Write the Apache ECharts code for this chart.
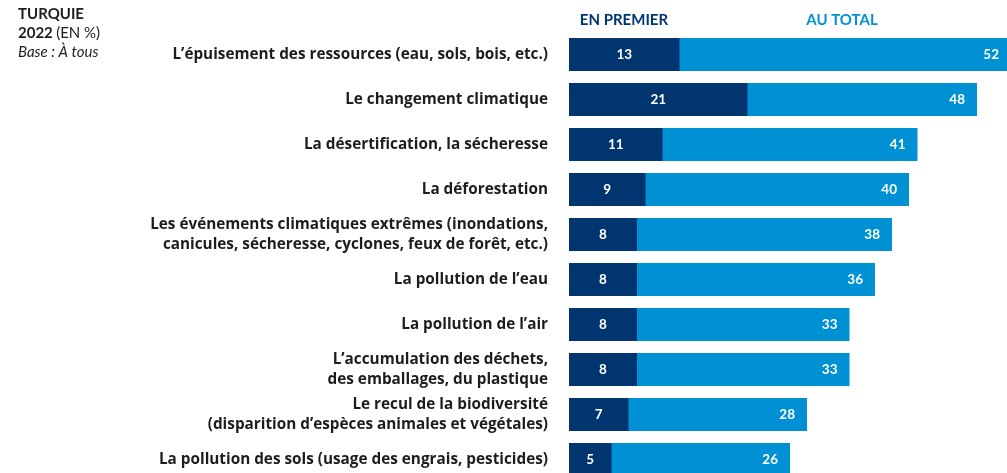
<!DOCTYPE html>
<html>
<head>
<meta charset="utf-8">
<script src="https://cdn.jsdelivr.net/npm/echarts@6/dist/echarts.min.js"></script>
<style>
  html, body { margin: 0; padding: 0; background: #ffffff; }
  #chart { width: 1007px; height: 473px; }
</style>
</head>
<body>
<div id="chart"></div>
<script>
// Préoccupations environnementales — Turquie 2022 (en %)
const categories = [
  "L’épuisement des ressources (eau, sols, bois, etc.)",
  "Le changement climatique",
  "La désertification, la sécheresse",
  "La déforestation",
  "Les événements climatiques extrêmes (inondations,\ncanicules, sécheresse, cyclones, feux de forêt, etc.)",
  "La pollution de l’eau",
  "La pollution de l’air",
  "L’accumulation des déchets,\ndes emballages, du plastique",
  "Le recul de la biodiversité\n(disparition d’espèces animales et végétales)",
  "La pollution des sols (usage des engrais, pesticides)"
];
const enPremier = [13, 21, 11, 9, 8, 8, 8, 8, 7, 5];
const auTotal = [52, 48, 41, 40, 38, 36, 33, 33, 28, 26];

const NAVY = "#003570";
const BLUE = "#0091d4";
const FONT = "'Open Sans', 'Noto Sans', sans-serif";
const HEAD_FONT = "Lato, 'Noto Sans', sans-serif";

const chart = echarts.init(document.getElementById("chart"), null, { renderer: "canvas" });

chart.setOption({
  animation: false,
  backgroundColor: "#ffffff",
  textStyle: { fontFamily: FONT },
  grid: {
    left: 569, top: 32, width: 510, height: 450,
    containLabel: false, outerBoundsMode: "none"
  },
  xAxis: {
    type: "value", min: 0, max: 60,
    show: false
  },
  yAxis: {
    type: "category",
    data: categories,
    inverse: true,
    axisLine: { show: false },
    axisTick: { show: false },
    splitLine: { show: false },
    axisLabel: {
      margin: 21,
      align: "right",
      color: "#1d1d1b",
      fontFamily: FONT,
      fontWeight: "bold",
      fontSize: 15.3,
      lineHeight: 20
    }
  },
  series: [
    {
      name: "AU TOTAL",
      type: "bar",
      data: auTotal,
      barWidth: 33,
      barGap: "-100%",
      itemStyle: { color: BLUE },
      label: {
        show: true, position: "insideRight", distance: 12,
        color: "#ffffff", fontWeight: "bold", fontSize: 13.5, fontFamily: HEAD_FONT
      },
      z: 2
    },
    {
      name: "EN PREMIER",
      type: "bar",
      data: enPremier,
      barWidth: 33,
      barGap: "-100%",
      itemStyle: { color: NAVY },
      label: {
        show: true, position: "inside",
        color: "#ffffff", fontWeight: "bold", fontSize: 13.5, fontFamily: HEAD_FONT
      },
      z: 3
    }
  ],
  graphic: [
    { type: "text", left: 18, top: 7,
      style: { text: "TURQUIE", fill: "#1d1d1b", font: "bold 15px " + HEAD_FONT } },
    { type: "text", left: 18, top: 26,
      style: { text: "{b|2022} {r|(EN %)}", fill: "#1d1d1b",
        rich: { b: { font: "bold 15px " + HEAD_FONT, fill: "#1d1d1b" },
                r: { font: "15px " + HEAD_FONT, fill: "#1d1d1b" } } } },
    { type: "text", left: 18, top: 45,
      style: { text: "Base : À tous", fill: "#1d1d1b", font: "italic 15px " + HEAD_FONT } },
    { type: "text", x: 624, y: 20,
      style: { text: "EN PREMIER", fill: NAVY, font: "bold 15px " + HEAD_FONT, align: "center", verticalAlign: "middle" } },
    { type: "text", x: 842, y: 20,
      style: { text: "AU TOTAL", fill: BLUE, font: "bold 15px " + HEAD_FONT, align: "center", verticalAlign: "middle" } }
  ]
});
</script>
</body>
</html>
